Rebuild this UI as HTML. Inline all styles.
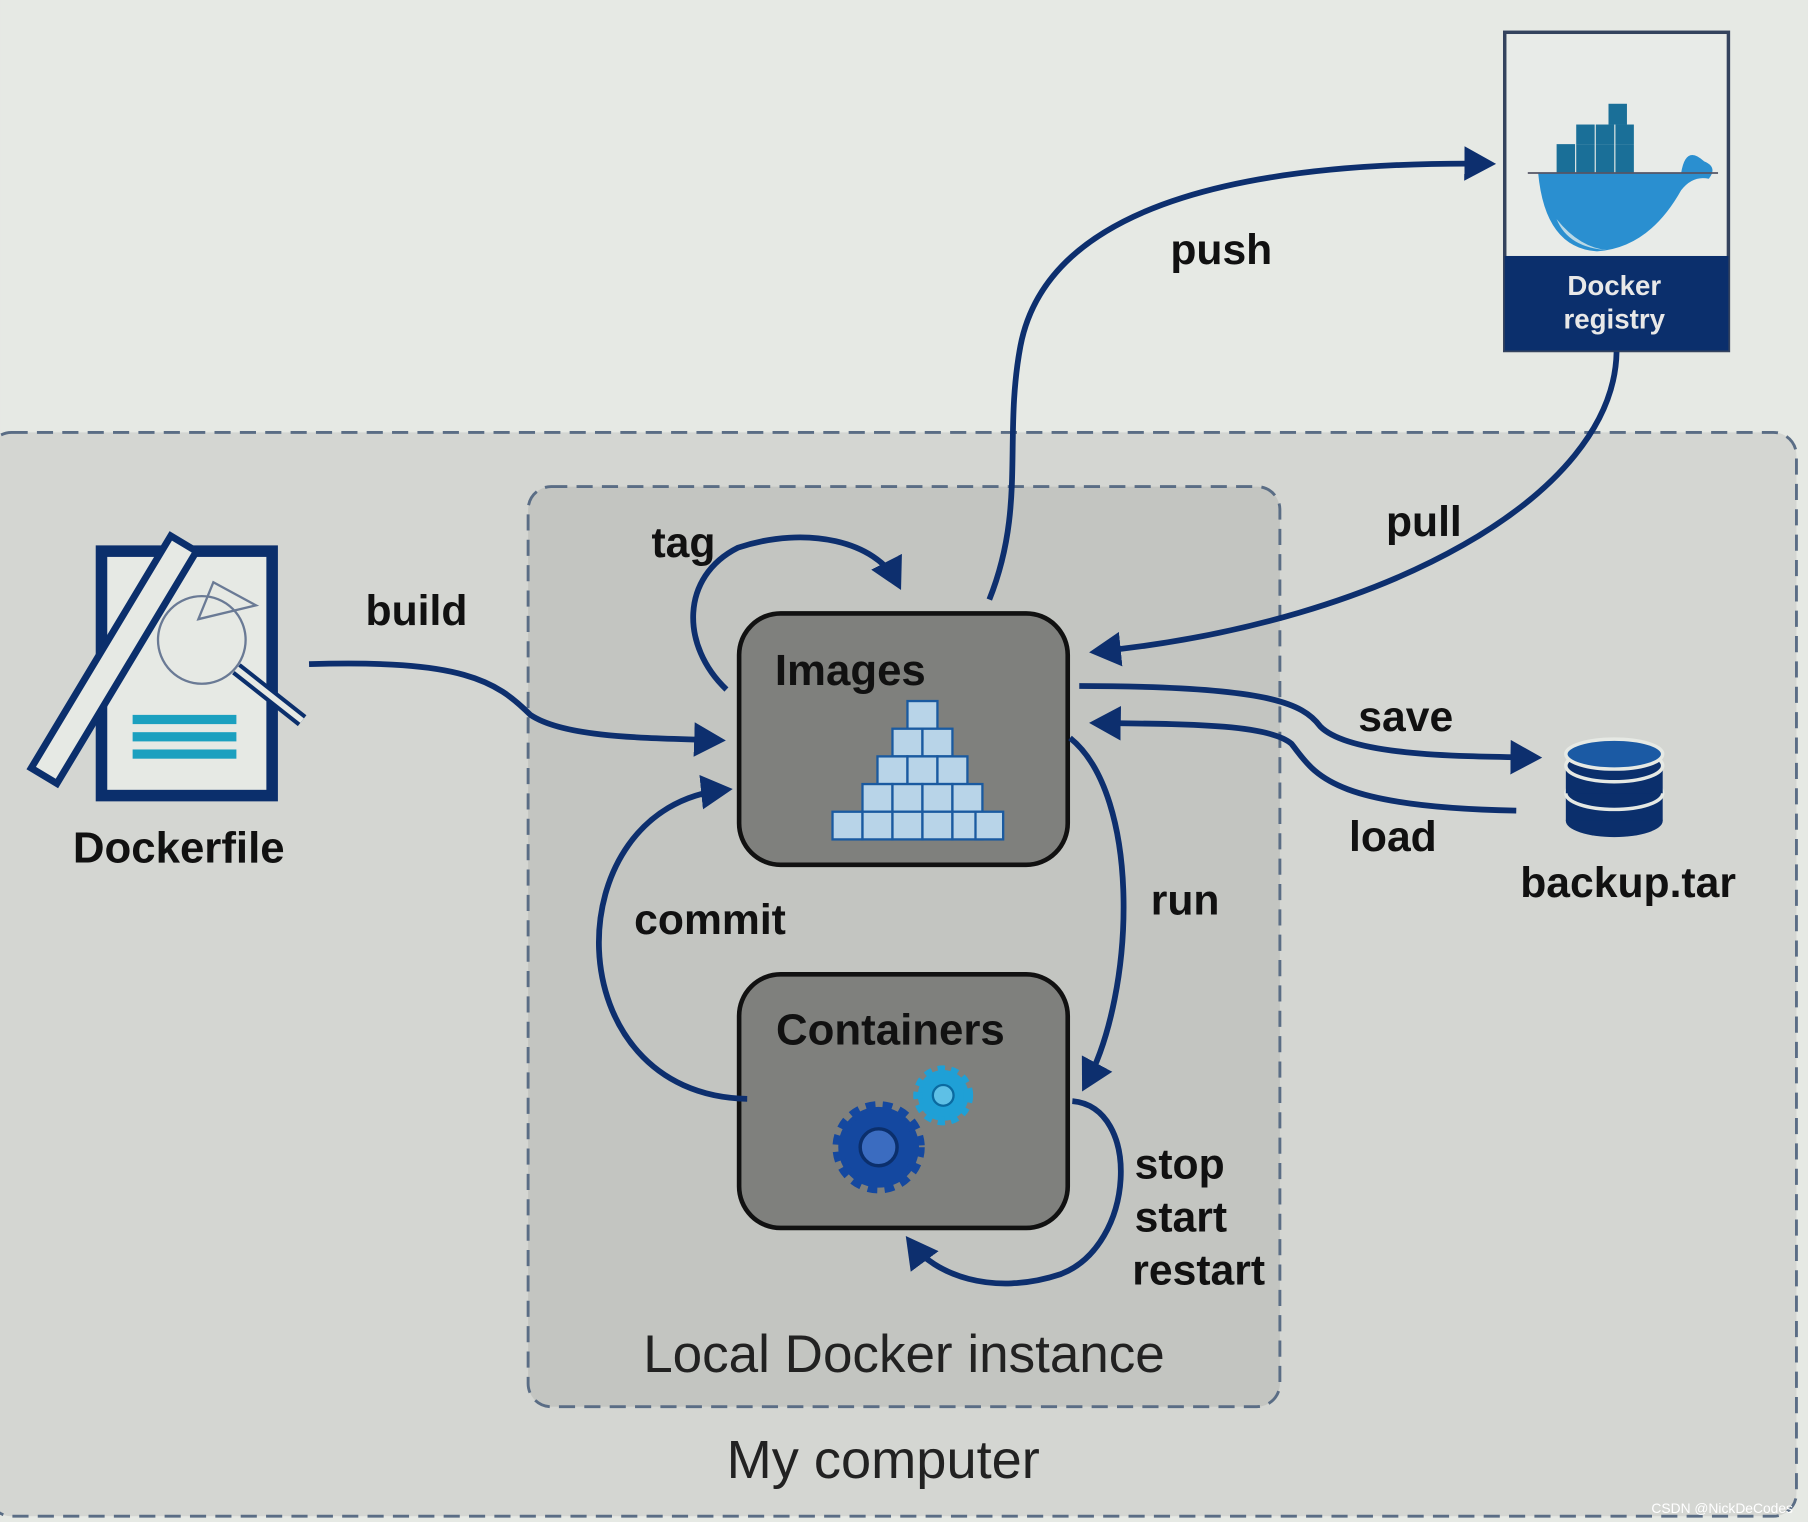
<!DOCTYPE html>
<html><head><meta charset="utf-8"><style>
html,body{margin:0;padding:0;background:#e6e9e4;}
svg{display:block;}
text{font-family:"Liberation Sans",sans-serif;}
</style></head><body>
<svg width="1808" height="1522" viewBox="0 0 1568 1320" xmlns="http://www.w3.org/2000/svg">
<defs>
<marker id="ah" markerWidth="6" markerHeight="6" refX="4" refY="3" orient="auto" markerUnits="strokeWidth">
<path d="M0,0 L5.5,3 L0,6 Z" fill="#0d2f6e"/></marker>
</defs>
<rect width="1568" height="1320" fill="#e6e9e4"/>
<rect x="-10" y="375" width="1568" height="940" rx="20" fill="#d4d6d2" stroke="#5a6d85" stroke-width="2.5" stroke-dasharray="14,8"/>
<rect x="458" y="422" width="652" height="798" rx="20" fill="#c3c5c1" stroke="#5a6d85" stroke-width="2.5" stroke-dasharray="14,8"/>

<!-- registry -->
<rect x="1305" y="28" width="194" height="276" fill="#e8ebe8" stroke="#34435e" stroke-width="3"/>
<rect x="1305" y="222" width="194" height="82" fill="#0b2f6c"/>
<text x="1400" y="256" font-size="24" font-weight="bold" fill="#e8e8e8" text-anchor="middle">Docker</text>
<text x="1400" y="285" font-size="24" font-weight="bold" fill="#e8e8e8" text-anchor="middle">registry</text>
<g>
<rect x="1350" y="125" width="16" height="25" fill="#1a6f98"/>
<rect x="1367" y="125" width="16" height="25" fill="#1a6f98"/>
<rect x="1384" y="125" width="16" height="25" fill="#1a6f98"/>
<rect x="1401" y="125" width="16" height="25" fill="#1a6f98"/>
<rect x="1367" y="108" width="16" height="17" fill="#1a6f98"/>
<rect x="1384" y="108" width="16" height="17" fill="#1a6f98"/>
<rect x="1401" y="108" width="16" height="17" fill="#1a6f98"/>
<rect x="1395" y="90" width="16" height="18" fill="#1a6f98"/>
<path d="M1334,150 L1458,150 Q1462,125 1478,140 Q1490,145 1482,155 Q1468,152 1458,165 Q1430,215 1385,218 Q1340,215 1334,150 Z" fill="#2a8fd0"/>
<path d="M1350,190 Q1370,215 1395,217 Q1360,215 1350,190 Z" fill="#b9d8e6"/>
<path d="M1325,150 L1490,150" stroke="#556" stroke-width="1.5"/>
</g>

<!-- Dockerfile icon -->
<rect x="88" y="478" width="148" height="212" fill="#e6e9e4" stroke="#0b2f6c" stroke-width="10"/>
<rect x="115" y="620" width="90" height="8" fill="#1ba0bf"/>
<rect x="115" y="635" width="90" height="8" fill="#1ba0bf"/>
<rect x="115" y="650" width="90" height="8" fill="#1ba0bf"/>
<circle cx="175" cy="555" r="38" fill="none" stroke="#6a7a95" stroke-width="2"/>
<path d="M205,580 L262,625" stroke="#0b2f6c" stroke-width="12"/>
<path d="M205,580 L262,625" stroke="#e6e9e4" stroke-width="5"/>
<path d="M185,505 L172,537 L222,525 Z" fill="none" stroke="#6a7a95" stroke-width="2"/>
<g transform="rotate(31 100 570)">
<rect x="87" y="455" width="26" height="235" fill="#e6e9e4" stroke="#0b2f6c" stroke-width="6"/>
</g>
<text x="155" y="748" font-size="38" font-weight="bold" fill="#111" text-anchor="middle">Dockerfile</text>

<!-- backup.tar -->
<g fill="#0b2f6c">
<ellipse cx="1400" cy="712" rx="42" ry="14"/>
<rect x="1358" y="688" width="84" height="24"/>
<ellipse cx="1400" cy="688" rx="42" ry="14" stroke="#e6e9e4" stroke-width="3"/>
<rect x="1358" y="664" width="84" height="24"/>
<ellipse cx="1400" cy="664" rx="42" ry="14" stroke="#e6e9e4" stroke-width="3"/>
<ellipse cx="1400" cy="654" rx="42" ry="13" fill="#1b5aa4" stroke="#e6e9e4" stroke-width="3"/>
</g>
<text x="1412" y="778" font-size="37" font-weight="bold" fill="#111" text-anchor="middle">backup.tar</text>

<!-- boxes -->
<rect x="641" y="532" width="285" height="218" rx="36" fill="#7f807d" stroke="#111" stroke-width="4"/>
<text x="672" y="594" font-size="38" font-weight="bold" fill="#111">Images</text>
<g fill="#b8d4e8" stroke="#1a5aa0" stroke-width="2">
<rect x="787" y="608" width="26" height="24"/>
<rect x="774" y="632" width="26" height="24"/><rect x="800" y="632" width="26" height="24"/>
<rect x="761" y="656" width="26" height="24"/><rect x="787" y="656" width="26" height="24"/><rect x="813" y="656" width="26" height="24"/>
<rect x="748" y="680" width="26" height="24"/><rect x="774" y="680" width="26" height="24"/><rect x="800" y="680" width="26" height="24"/><rect x="826" y="680" width="26" height="24"/>
<rect x="722" y="704" width="26" height="24"/><rect x="748" y="704" width="26" height="24"/><rect x="774" y="704" width="26" height="24"/><rect x="800" y="704" width="26" height="24"/><rect x="826" y="704" width="26" height="24"/><rect x="846" y="704" width="24" height="24"/>
</g>
<rect x="641" y="845" width="285" height="220" rx="36" fill="#7f807d" stroke="#111" stroke-width="4"/>
<text x="673" y="906" font-size="38" font-weight="bold" fill="#111">Containers</text>
<circle cx="762" cy="995" r="35" fill="#1448a0" stroke="#1448a0" stroke-width="10" stroke-dasharray="8,6"/>
<circle cx="762" cy="995" r="16" fill="#3b6cc0" stroke="#0b2f6c" stroke-width="3"/>
<circle cx="818" cy="950" r="22" fill="#1fa0d6" stroke="#1fa0d6" stroke-width="8" stroke-dasharray="6,5"/>
<circle cx="818" cy="950" r="9" fill="#5ec0e6" stroke="#0b6aa0" stroke-width="2"/>

<!-- arrows -->
<g fill="none" stroke="#0d2f6e" stroke-width="5" marker-end="url(#ah)">
<path d="M268,576 C400,572 430,590 460,620 C490,640 560,640 622,642"/>
<path d="M630,598 C590,560 590,500 640,475 C700,455 760,470 778,505"/>
<path d="M858,520 C890,440 870,380 885,300 C910,170 1100,140 1290,142"/>
<path d="M1402,305 C1400,430 1200,540 952,565"/>
<path d="M936,595 C1100,595 1130,610 1145,630 C1170,655 1260,656 1330,657"/>
<path d="M1315,703 C1150,700 1140,670 1120,645 C1100,628 1030,628 952,627"/>
<path d="M928,640 C990,690 985,860 942,940"/>
<path d="M648,953 C480,950 480,700 628,685"/>
<path d="M930,955 C990,960 985,1080 920,1105 C860,1125 810,1105 790,1078"/>
</g>

<!-- labels -->
<g font-size="37" font-weight="bold" fill="#111">
<text x="317" y="542">build</text>
<text x="565" y="483">tag</text>
<text x="1015" y="229">push</text>
<text x="1202" y="465">pull</text>
<text x="1178" y="634">save</text>
<text x="1170" y="738">load</text>
<text x="998" y="793">run</text>
<text x="550" y="810">commit</text>
<text x="984" y="1022">stop</text>
<text x="984" y="1068">start</text>
<text x="982" y="1114">restart</text>
</g>
<text x="784" y="1190" font-size="46" fill="#222" text-anchor="middle">Local Docker instance</text>
<text x="766" y="1282" font-size="47" fill="#222" text-anchor="middle">My computer</text>
<text x="1555" y="1312" font-size="12" fill="#fff" text-anchor="end">CSDN @NickDeCodes</text>
</svg>
</body></html>
